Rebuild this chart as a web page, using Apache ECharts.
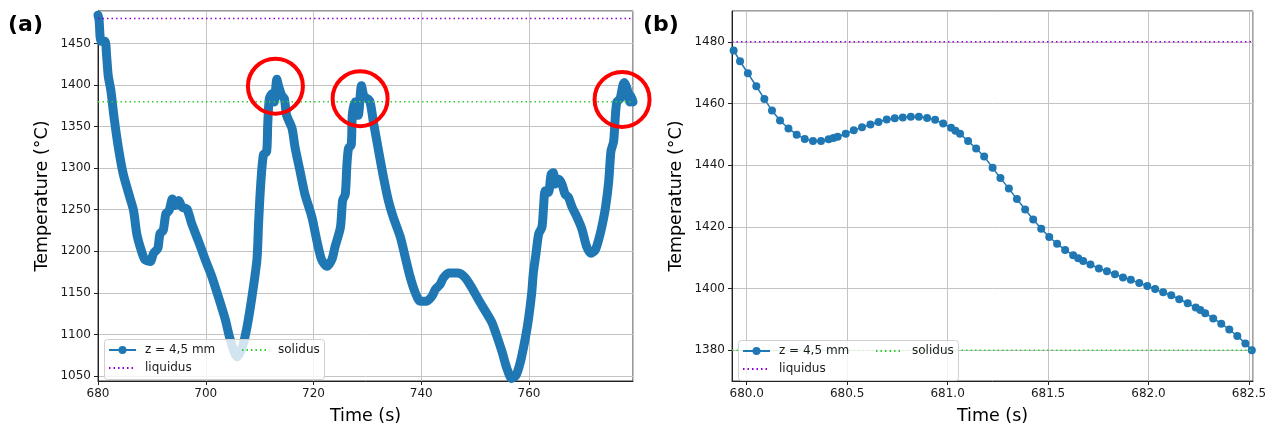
<!DOCTYPE html>
<html><head><meta charset="utf-8">
<script src="https://cdn.jsdelivr.net/npm/echarts@6/dist/echarts.min.js"></script>
<style>html,body{margin:0;padding:0;background:#fff}#c{width:1273px;height:430px}</style>
</head><body><div id="c"></div>
<script>
// ---- Panel (a) data ----
const timeA = [680.0,680.2,680.56,681.3,681.6,681.9,682.4,683.0,683.8,684.7,685.9,686.6,687.2,688.0,688.7,689.7,690.3,691.1,691.5,692.1,692.6,693.2,693.8,694.3,695.0,695.6,696.5,697.4,698.6,699.9,701.1,702.3,703.6,704.5,705.8,706.7,707.6,708.5,709.5,709.8,710.2,710.7,711.3,711.5,711.8,712.3,712.7,713.2,713.5,714.1,714.6,715.0,716.0,716.6,717.5,718.4,719.7,720.6,721.5,722.5,723.4,724.0,725.0,725.4,725.9,726.2,726.5,727.0,727.2,727.7,728.3,728.9,729.4,730.4,731.1,732.1,733.0,733.9,734.8,736.1,737.0,737.9,738.9,739.8,741.0,742.0,742.6,743.5,744.1,745.1,746.0,746.9,748.2,749.4,750.6,751.9,753.1,754.0,755.0,755.9,756.8,757.6,758.4,759.3,759.9,760.5,760.8,761.3,761.8,762.4,762.7,763.0,763.6,764.1,764.5,764.9,765.5,766.1,766.7,767.3,768.0,768.9,769.8,770.7,771.5,772.3,772.9,773.5,774.2,774.8,775.2,775.7,776.0,776.3,776.9,777.4,777.7,778.2,778.7,778.9,779.3];
const tempA = [1484,1478,1452.7,1452.7,1435,1411,1393,1360,1324,1292.5,1265,1249,1221,1201.6,1190,1187.7,1197.5,1203.5,1221,1225,1245,1249,1263,1255,1261,1253,1251,1233,1213,1190,1170,1146,1118.5,1095,1073,1083,1107,1142,1190,1233,1280.6,1316,1320,1352,1383.5,1389.5,1379.6,1407,1399,1387.5,1383.5,1363.7,1348,1324,1296.5,1268.7,1241,1213.4,1190,1182,1190,1205.5,1229,1261,1268.7,1304,1324,1328,1363.7,1379.6,1363.7,1399,1386,1381.5,1356,1320,1288.6,1261,1241,1217.4,1193.6,1170,1150,1140,1140,1146,1154,1160,1168,1174,1174,1174,1168,1156,1142,1128,1114.5,1098.6,1079,1059,1047,1051,1067,1095,1118.5,1150,1174,1197.5,1221,1229,1253,1272.8,1270.8,1292.5,1294.5,1281,1286.6,1281,1268.7,1265,1253,1241,1227,1205.5,1197.5,1201.6,1213.4,1229,1253,1284.6,1320,1332,1360,1379.6,1383.5,1399,1403,1395.4,1379.6,1387.5,1379.6];
const circlesA = [[712.93,1398.6],[728.65,1383.5],[777.27,1382.7]];
const xLimA = [680, 779.3];
const yLimA = [1044, 1489];

// ---- Panel (b) data ----
const timeB = [679.935,679.967,680.006,680.048,680.088,680.126,680.166,680.208,680.249,680.289,680.330,680.370,680.408,680.432,680.453,680.493,680.533,680.574,680.616,680.656,680.697,680.737,680.777,680.817,680.857,680.898,680.938,680.978,681.017,681.039,681.062,681.102,681.142,681.182,681.224,681.263,681.305,681.345,681.386,681.426,681.466,681.506,681.545,681.585,681.625,681.650,681.675,681.711,681.753,681.793,681.833,681.873,681.912,681.954,681.994,682.033,682.073,682.113,682.153,682.195,682.235,682.258,682.282,682.322,682.362,682.402,682.442,682.482,682.514];
const tempB = [1477.2,1473.7,1469.8,1465.6,1461.5,1457.7,1454.5,1451.9,1449.9,1448.5,1447.8,1447.8,1448.4,1448.8,1449.2,1450.2,1451.3,1452.3,1453.2,1454.0,1454.8,1455.2,1455.5,1455.7,1455.7,1455.3,1454.7,1453.5,1452.1,1451.2,1450.2,1447.8,1445.4,1442.8,1439.2,1435.8,1432.4,1429.0,1425.6,1422.4,1419.4,1416.7,1414.5,1412.5,1410.8,1409.8,1408.9,1407.8,1406.5,1405.6,1404.6,1403.6,1402.8,1401.8,1400.8,1399.8,1398.8,1397.8,1396.5,1395.2,1393.8,1393.0,1392.0,1390.3,1388.6,1386.7,1384.6,1382.2,1380.0];
const xLimB = [679.927, 682.52];
const yLimB = [1370, 1490];

const liquidus = 1480;
const solidus = 1380;
const seriesName = 'z = 4,5 mm';
const xLabel = 'Time (s)';
const yLabel = 'Temperature (°C)';
const panelLabels = ['(a)', '(b)'];

const BLUE = '#1f77b4', PURPLE = '#9400d3', GREEN = '#32cd32';
const FONT = 'DejaVu Sans';
const zip = (a, b) => a.map((v, i) => [v, b[i]]);

const chart = echarts.init(document.getElementById('c'), null, {renderer: 'canvas'});

function xAxis(gi, lim, extra, fmt) {
  return Object.assign({
    type: 'value', gridIndex: gi, min: lim[0], max: lim[1],
    name: xLabel, nameLocation: 'middle', nameGap: 26,
    nameTextStyle: {fontFamily: FONT, fontSize: 17.5, color: '#000'},
    axisLine: {show: true, onZero: false, lineStyle: {color: '#222', width: 1}},
    axisTick: {show: true, length: 4, inside: false, lineStyle: {color: '#222'}},
    axisLabel: {fontFamily: FONT, fontSize: 12, color: '#1a1a1a', margin: 7,
      showMinLabel: gi === 0, showMaxLabel: false, formatter: fmt},
    splitLine: {show: true, lineStyle: {color: '#c4c4c4', width: 1}}
  }, extra);
}
function yAxis(gi, lim, split) {
  return {
    type: 'value', gridIndex: gi, min: lim[0], max: lim[1], splitNumber: split,
    name: yLabel, nameLocation: 'middle', nameGap: 47,
    nameTextStyle: {fontFamily: FONT, fontSize: 17.5, color: '#000'},
    axisLine: {show: true, onZero: false, lineStyle: {color: '#222', width: 1}},
    axisTick: {show: true, length: 4, lineStyle: {color: '#222'}},
    axisLabel: {fontFamily: FONT, fontSize: 12, color: '#1a1a1a', margin: 7,
      showMinLabel: false, showMaxLabel: false, formatter: v => String(Math.round(v))},
    splitLine: {show: true, lineStyle: {color: '#c4c4c4', width: 1}}
  };
}
function legend(left, top, names) {
  return {
    left: left, top: top, orient: 'vertical', z: 5,
    data: names.map(n => n === seriesName ? {name: n} : {name: n, itemStyle: {opacity: 0, borderWidth: 0}}),
    itemWidth: 27, itemHeight: 10, itemGap: 6, padding: 0,
    textStyle: {fontFamily: FONT, fontSize: 12, color: '#1a1a1a', padding: [0, 0, 0, 4]},
    selectedMode: false
  };
}
function legendBox(x, y) {
  return {type: 'rect', left: x, top: y, z: 4, silent: true,
    shape: {width: 220, height: 40, r: 3},
    style: {fill: 'rgba(255,255,255,0.8)', stroke: '#d0d0d0', lineWidth: 1}};
}
function hline(name, gi, lim, val, color) {
  return {
    type: 'line', name: name, xAxisIndex: gi, yAxisIndex: gi,
    data: [[lim[0], val], [lim[1], val]], symbol: 'none', showSymbol: false, silent: true, z: 3,
    lineStyle: {color: color, width: 1.5, type: [1.5, 3]}, itemStyle: {color: color}
  };
}

const option = {
  animation: false,
  backgroundColor: '#fff',
  title: [
    {text: panelLabels[0], left: 8, top: 14, padding: 0, textStyle: {fontFamily: FONT, fontSize: 22, fontWeight: 'bold', color: '#000'}},
    {text: panelLabels[1], left: 643, top: 14, padding: 0, textStyle: {fontFamily: FONT, fontSize: 22, fontWeight: 'bold', color: '#000'}}
  ],
  grid: [
    {left: 98, right: 640, top: 11, bottom: 44, show: true, borderColor: '#333', borderWidth: 1, backgroundColor: 'transparent'},
    {left: 732, right: 20, top: 11, bottom: 44, show: true, borderColor: '#444', borderWidth: 1, backgroundColor: 'transparent'}
  ],
  xAxis: [
    xAxis(0, xLimA, {interval: 20}, v => String(Math.round(v))),
    xAxis(1, xLimB, {splitNumber: 5}, v => v.toFixed(1))
  ],
  yAxis: [yAxis(0, yLimA, 9), yAxis(1, yLimB, 6)],
  graphic: {elements: [legendBox(104, 339), legendBox(738, 340)]},
  legend: [
    legend(108, 344, [seriesName, 'liquidus']), legend(241, 344, ['solidus']),
    legend(742, 345, [seriesName, 'liquidus']), legend(875, 345, ['solidus'])
  ],
  series: [
    {type: 'line', name: seriesName, xAxisIndex: 1, yAxisIndex: 1, data: zip(timeB, tempB),
     symbol: 'circle', symbolSize: 8, showSymbol: true, clip: true,
     lineStyle: {color: BLUE, width: 1.5}, itemStyle: {color: BLUE}, z: 2},
    {type: 'line', name: seriesName, xAxisIndex: 0, yAxisIndex: 0, data: zip(timeA, tempA),
     symbol: 'none', smooth: 0.25, clip: true,
     lineStyle: {color: BLUE, width: 9, cap: 'round', join: 'round'}, itemStyle: {color: BLUE}, z: 2},
    hline('liquidus', 0, xLimA, liquidus, PURPLE),
    hline('solidus', 0, xLimA, solidus, GREEN),
    hline('liquidus', 1, xLimB, liquidus, PURPLE),
    hline('solidus', 1, xLimB, solidus, GREEN),
    {type: 'scatter', name: 'circles', xAxisIndex: 0, yAxisIndex: 0, data: circlesA,
     symbol: 'circle', symbolSize: 55, clip: false, silent: true, z: 6,
     itemStyle: {color: 'rgba(0,0,0,0)', borderColor: '#ff0000', borderWidth: 4, opacity: 1}}
  ]
};
chart.setOption(option);
</script>
</body></html>
